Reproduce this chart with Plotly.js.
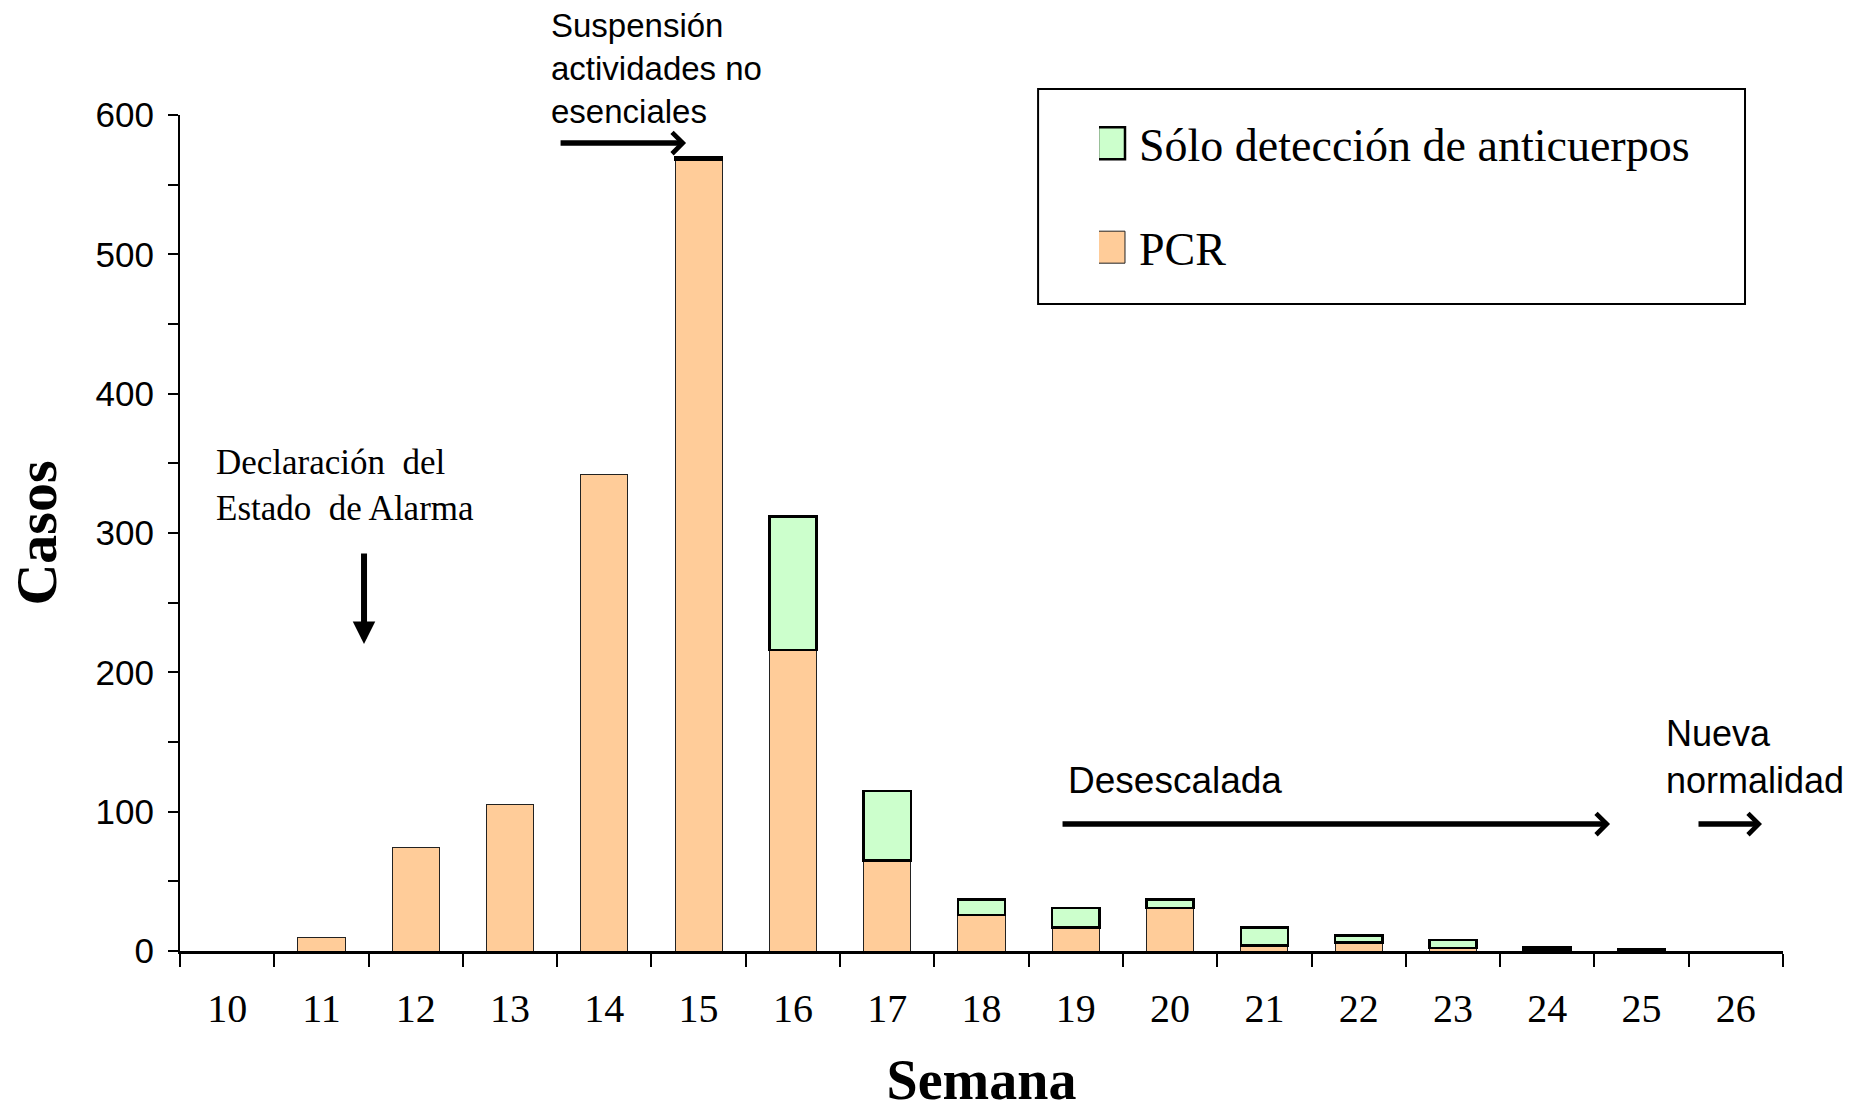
<!DOCTYPE html>
<html>
<head>
<meta charset="utf-8">
<script src="https://cdn.plot.ly/plotly-3.0.1.min.js"></script>
<style>html,body{margin:0;padding:0;background:#fff;}#chart{width:1854px;height:1114px;}</style>
</head>
<body>
<div id="chart"></div>
<script>
// null = no bar drawn in that week for that series
const weeks = ['10','11','12','13','14','15','16','17','18','19','20','21','22','23','24','25','26'];
const pcr = [null,10,74,105,342,568,216,65,26,17,31,4,6,2,1,null,null];
const anticuerpos = [null,null,null,null,null,2,96,50,11,14,6,13,5,6,2,1,null];
const yTicks = [0,100,200,300,400,500,600];

const serif = 'Liberation Serif, Times New Roman, serif';
const sans = 'Liberation Sans, Arial, sans-serif';

const traces = [
  {
    type: 'bar', x: weeks, y: pcr, name: 'PCR', legendgroup: 'pcr', legendrank: 2,
    width: 0.5,
    marker: {color: '#FFCC99', line: {color: '#222222', width: 1}}
  },
  {
    type: 'bar', x: weeks, y: anticuerpos, name: 'Sólo detección de anticuerpos', legendgroup: 'ac', legendrank: 1,
    width: 0.5,
    marker: {color: '#CCFFCC', line: {color: '#000000', width: 2.5}}
  }
];

const layout = {
  width: 1854, height: 1114,
  margin: {l: 180, r: 71, t: 115, b: 163},
  paper_bgcolor: '#ffffff', plot_bgcolor: '#ffffff',
  barmode: 'stack',
  showlegend: true,
  legend: {
    x: 0.5733, y: 1.0096, xanchor: 'left', yanchor: 'top',
    traceorder: 'grouped', tracegroupgap: 41,
    font: {family: serif, size: 46, color: '#000'},
    bgcolor: 'rgba(0,0,0,0)', borderwidth: 0
  },
  xaxis: {
    type: 'category', range: [-0.5, 16.5],
    tickson: 'boundaries', ticks: 'outside', ticklen: 13, tickwidth: 2, tickcolor: '#000',
    showline: true, linecolor: '#000', linewidth: 3,
    showgrid: false, zeroline: false,
    tickfont: {family: serif, size: 40, color: '#000'},
    ticklabelstandoff: 20,
    title: {text: 'Semana', font: {family: serif, size: 56, color: '#000', weight: 'bold'}, standoff: 30}
  },
  yaxis: {
    range: [0, 600], tickvals: yTicks,
    ticks: 'outside', ticklen: 10, tickwidth: 2, tickcolor: '#000',
    minor: {dtick: 50, tick0: 0, ticks: 'outside', ticklen: 10, tickwidth: 2, tickcolor: '#000', showgrid: false},
    showline: true, linecolor: '#000', linewidth: 2,
    showgrid: false, zeroline: false,
    tickfont: {family: sans, size: 35, color: '#000'},
    ticklabelstandoff: 7,
    title: {text: 'Casos', font: {family: serif, size: 58, color: '#000', weight: 'bold'}, standoff: 20}
  },
  shapes: [
    {type: 'rect', xref: 'paper', yref: 'paper', x0: 0.5353, x1: 0.9763, y0: 0.7739, y1: 1.0311,
     line: {color: '#000', width: 2}, fillcolor: 'rgba(0,0,0,0)'}
  ],
  annotations: [
    {xref: 'paper', yref: 'paper', x: 0.2308, y: 1.1304, xanchor: 'left', yanchor: 'top', align: 'left',
     text: 'Suspensión<br>actividades no<br>esenciales', showarrow: false, borderpad: 0,
     font: {family: sans, size: 33, color: '#000'}},
    {xref: 'paper', yref: 'paper', x: 0.3157, y: 0.9665, ax: -126, ay: 0, text: '', showarrow: true,
     arrowhead: 4, arrowwidth: 5.5, arrowsize: 0.75, arrowcolor: '#000', borderpad: 0},
    {xref: 'paper', yref: 'paper', x: 0.0218, y: 0.6089, xanchor: 'left', yanchor: 'top', align: 'left',
     text: 'Declaración  del<br>Estado  de Alarma', showarrow: false, borderpad: 0,
     font: {family: serif, size: 35, color: '#000'}},
    {xref: 'paper', yref: 'paper', x: 0.1148, y: 0.3672, ax: 0, ay: -91, text: '', showarrow: true,
     arrowhead: 2, arrowwidth: 6, arrowsize: 0.75, arrowcolor: '#000', borderpad: 0},
    {xref: 'paper', yref: 'paper', x: 0.5533, y: 0.2045, xanchor: 'left', yanchor: 'middle', align: 'left',
     text: 'Desescalada', showarrow: false, borderpad: 0,
     font: {family: sans, size: 37, color: '#000'}},
    {xref: 'paper', yref: 'paper', x: 0.8921, y: 0.1519, ax: -548, ay: 0, text: '', showarrow: true,
     arrowhead: 4, arrowwidth: 5.5, arrowsize: 0.75, arrowcolor: '#000', borderpad: 0},
    {xref: 'paper', yref: 'paper', x: 0.9264, y: 0.2321, xanchor: 'left', yanchor: 'middle', align: 'left',
     text: 'Nueva<br>normalidad', showarrow: false, borderpad: 0,
     font: {family: sans, size: 36, color: '#000'}},
    {xref: 'paper', yref: 'paper', x: 0.9869, y: 0.1519, ax: -64, ay: 0, text: '', showarrow: true,
     arrowhead: 4, arrowwidth: 5.5, arrowsize: 0.75, arrowcolor: '#000', borderpad: 0}
  ]
};

Plotly.newPlot('chart', traces, layout, {displayModeBar: false, staticPlot: true}).then(function (gd) {
  // enlarge the legend swatches to match the reference's large square keys
  gd.querySelectorAll('.legend .traces .legendpoints path').forEach(function (p) {
    p.setAttribute('d', 'M6,16H-21V-16H6Z');
  });
});
</script>
</body>
</html>
